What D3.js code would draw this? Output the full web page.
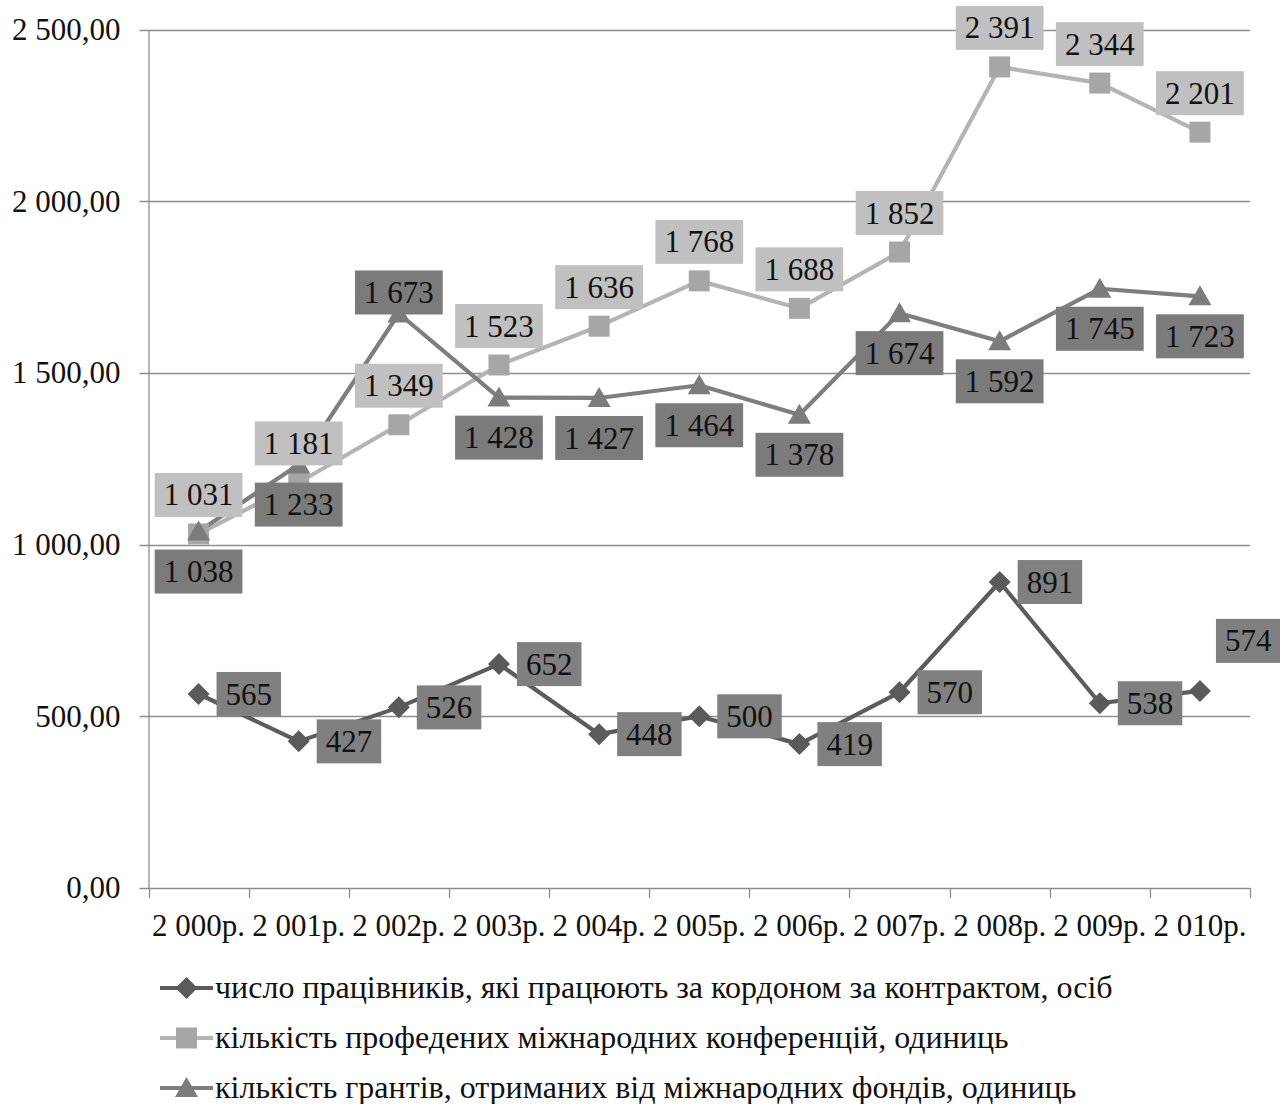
<!DOCTYPE html>
<html>
<head>
<meta charset="utf-8">
<script src="https://cdn.jsdelivr.net/npm/d3@7"></script>
<style>
  html, body { margin: 0; padding: 0; background: #fff; }
</style>
</head>
<body>
<svg id="chart" width="1280" height="1104"></svg>
<script>
// Years on the category axis
const categories = ["2 000р.", "2 001р.", "2 002р.", "2 003р.", "2 004р.", "2 005р.",
                    "2 006р.", "2 007р.", "2 008р.", "2 009р.", "2 010р."];

// Series values
const workersAbroad = [565, 427, 526, 652, 448, 500, 419, 570, 891, 538, 574];
const conferences   = [1031, 1181, 1349, 1523, 1636, 1768, 1688, 1852, 2391, 2344, 2201];
const grants        = [1038, 1233, 1673, 1428, 1427, 1464, 1378, 1674, 1592, 1745, 1723];

const seriesNames = [
  "число працівників, які працюють за кордоном за контрактом, осіб",
  "кількість профедених міжнародних конференцій, одиниць",
  "кількість грантів, отриманих від міжнародних фондів, одиниць"
];

// Value-axis ticks
const yTicks = [0, 500, 1000, 1500, 2000, 2500];

// Where each data label sits relative to its point
const workersLabelPos     = ["r", "r", "r", "r", "r", "r", "r", "r", "r", "r", "ur"];
const conferencesLabelPos = ["t", "t", "t", "t", "t", "t", "t", "t", "t", "t", "t"];
const grantsLabelPos      = ["b", "b", "tn", "b", "b", "b", "b", "b", "b", "b", "b"];

const series = [
  { name: seriesNames[0], values: workersAbroad, pos: workersLabelPos, marker: "diamond",
    line: "#5c5c5c", fill: "#5a5a5a", box: "#808080" },
  { name: seriesNames[1], values: conferences, pos: conferencesLabelPos, marker: "square",
    line: "#b4b4b4", fill: "#a6a6a6", box: "#c0c0c0" },
  { name: seriesNames[2], values: grants, pos: grantsLabelPos, marker: "triangle",
    line: "#7e7e7e", fill: "#7c7c7c", box: "#7b7b7b" }
];

const locale = d3.formatLocale({ decimal: ",", thousands: " ", grouping: [3], currency: ["", ""] });
const fmtAxis = locale.format(",.2f");
const fmtLabel = locale.format(",d");

const FONT = 31;
const LEGEND_FONT = 32;
const serifText = (sel, size = FONT) => sel
  .attr("font-family", "Liberation Serif")
  .style("font-family", '"Liberation Serif"')
  .attr("font-size", size)
  .style("font-size", size + "px")
  .attr("fill", "#111");

const svg = d3.select("#chart");

const plot = { left: 148.5, right: 1250, top: 29.5, bottom: 888 };

const x = d3.scaleBand().domain(categories).range([plot.left, plot.right]).padding(0);
const y = d3.scaleLinear().domain([0, 2500]).range([plot.bottom, plot.top]);
const cx = c => x(c) + x.bandwidth() / 2;

// Horizontal gridlines
svg.append("g")
  .selectAll("line")
  .data(yTicks)
  .join("line")
  .attr("x1", plot.left - 9).attr("x2", plot.right)
  .attr("y1", d => Math.round(y(d)) + 0.5).attr("y2", d => Math.round(y(d)) + 0.5)
  .attr("stroke", "#8e8e8e").attr("stroke-width", 1.3);

// Value axis
const yAxis = svg.append("g")
  .attr("transform", `translate(${plot.left},0)`)
  .call(d3.axisLeft(y).tickValues(yTicks).tickFormat(fmtAxis).tickSize(9).tickSizeOuter(0));
yAxis.attr("font-family", "Liberation Serif").attr("font-size", FONT);
yAxis.select(".domain").attr("stroke", "#8e8e8e").attr("stroke-width", 1.3);
yAxis.selectAll(".tick line").remove();
yAxis.selectAll(".tick text")
  .attr("x", -28)
  .call(serifText);

// Category axis: ticks at band boundaries
const boundaries = categories.map(c => x(c)).concat([plot.right]);
svg.append("g")
  .selectAll("line")
  .data(boundaries)
  .join("line")
  .attr("x1", d => Math.round(d) + 0.5).attr("x2", d => Math.round(d) + 0.5)
  .attr("y1", plot.bottom).attr("y2", plot.bottom + 10)
  .attr("stroke", "#8e8e8e").attr("stroke-width", 1.3);

svg.append("g")
  .selectAll("text")
  .data(categories)
  .join("text")
  .attr("x", d => cx(d))
  .attr("y", 936)
  .attr("text-anchor", "middle")
  .call(serifText)
  .text(d => d);

// Marker shapes
function markerPath(type) {
  if (type === "diamond") return "M0,-11L11,0L0,11L-11,0Z";
  if (type === "square") return "M-10.5,-10.5H10.5V10.5H-10.5Z";
  return "M0,-11L11.5,9L-11.5,9Z";
}

const lineGen = d3.line().x((d, i) => cx(categories[i])).y(d => y(d));

// Lines
series.forEach(s => {
  svg.append("path")
    .datum(s.values)
    .attr("d", lineGen)
    .attr("fill", "none")
    .attr("stroke", s.line)
    .attr("stroke-width", 4.2)
    .attr("stroke-linejoin", "round");
});

// Markers
series.forEach(s => {
  svg.append("g")
    .selectAll("path")
    .data(s.values)
    .join("path")
    .attr("transform", (d, i) => `translate(${cx(categories[i])},${y(d)})`)
    .attr("d", markerPath(s.marker))
    .attr("fill", s.fill);
});

// Data labels in filled boxes
const BOX_H = 44, PAD = 9;
series.forEach(s => {
  const g = svg.append("g");
  s.values.forEach((v, i) => {
    const px = cx(categories[i]), py = y(v);
    const lg = g.append("g");
    const rect = lg.append("rect").attr("fill", s.box);
    const t = lg.append("text")
      .call(serifText)
      .attr("text-anchor", "middle")
      .attr("dy", "0.34em")
      .text(fmtLabel(v));
    const w = t.node().getComputedTextLength() + 2 * PAD;
    let bx, by;
    switch (s.pos[i]) {
      case "r":  bx = px + 18 + w / 2; by = py; break;
      case "ur": bx = px + 16 + w / 2; by = py - 50; break;
      case "t":  bx = px; by = py - 39; break;
      case "tn": bx = px; by = py - 21; break;
      default:   bx = px; by = py + 40;
    }
    rect.attr("x", bx - w / 2).attr("y", by - BOX_H / 2).attr("width", w).attr("height", BOX_H);
    t.attr("x", bx).attr("y", by);
  });
});

// Legend
const legend = svg.append("g");
series.forEach((s, i) => {
  const ly = 988 + i * 50;
  legend.append("line")
    .attr("x1", 160).attr("x2", 213).attr("y1", ly).attr("y2", ly)
    .attr("stroke", s.line).attr("stroke-width", 4.2);
  legend.append("path")
    .attr("transform", `translate(186.5,${ly})`)
    .attr("d", markerPath(s.marker))
    .attr("fill", s.fill);
  legend.append("text")
    .attr("x", 215).attr("y", ly).attr("dy", "0.32em")
    .call(serifText, LEGEND_FONT)
    .text(s.name);
});
</script>
</body>
</html>
